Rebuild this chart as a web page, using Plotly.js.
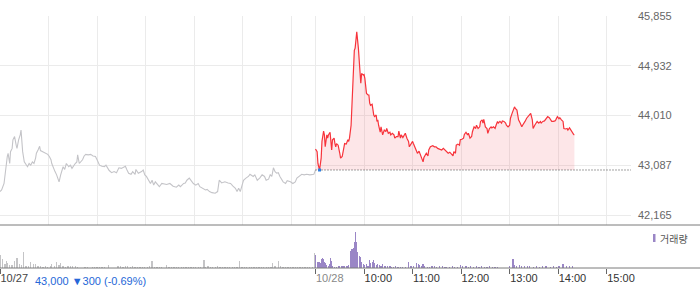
<!DOCTYPE html>
<html><head><meta charset="utf-8">
<script src="https://cdn.plot.ly/plotly-3.0.1.min.js"></script>
<style>html,body{margin:0;padding:0;background:#fff;}#chart{width:700px;height:289px;}</style>
</head><body><div id="chart"></div>
<script>
// ---- data (minutes since 09:00 of each day) ----
const prevClose = 43000;
const priceTicks = [42165, 43087, 44010, 44932, 45855];
const priceTickText = ['42,165', '43,087', '44,010', '44,932', '45,855'];
const dayLabels = ['10/27', '10/28'];
const hourLabels = ['10:00', '11:00', '12:00', '13:00', '14:00', '15:00'];
const summaryText = '43,000 \u25BC300 (-0.69%)';
const volumeLabel = '거래량';

const day1Min = [0,2,5,6,7,9,10,12,13,15,16,18,20,21,23,25,26,27,28,30,32,34,36,38,40,42,44,45,47,49,50,53,56,59,61,63,64,66,68,70,72,73,75,77,78,80,82,85,87,89,91,93,95,96,98,100,102,104,106,109,112,115,118,120,123,126,129,131,133,135,138,141,144,147,150,153,155,157,159,162,164,167,168,171,173,175,177,179,181,184,186,188,190,192,194,197,200,203,206,210,214,218,221,223,227,229,231,234,237,239,242,245,247,251,254,256,259,262,266,269,271,274,278,282,285,288,291,293,295,297,299,301,304,307,309,313,315,318,321,324,327,329,332,334,336,338,340,342,344,346,350,353,355,359,362,365,367,370,373,376,379,383,386,388,390];
const day1Price = [42600,42630,42750,42880,43090,43250,43310,43120,43340,43400,43560,43620,43460,43400,43560,43650,43740,43490,43340,43150,43090,43060,43120,43090,43150,43120,43220,43310,43370,43440,43360,43340,43310,43290,43250,43190,43120,43030,42970,42910,42830,42780,42910,43000,43060,43010,43120,43060,43090,43030,43090,43120,43150,43280,43120,43150,43190,43260,43290,43280,43290,43260,43250,43190,43090,43070,43060,43090,43030,42990,42950,42970,42950,43040,43030,43060,43070,43000,42940,42920,42970,42920,43010,42940,42950,42970,43000,42910,42880,42810,42750,42810,42720,42780,42750,42690,42750,42740,42730,42750,42700,42680,42720,42690,42750,42760,42810,42850,42780,42750,42720,42750,42690,42660,42630,42640,42600,42580,42570,42600,42810,42760,42780,42760,42750,42700,42660,42600,42660,42600,42690,42810,42850,42880,42920,42880,42910,42810,42850,42910,42880,42810,42830,42910,42880,43040,42970,42940,42950,42880,42780,42750,42800,42780,42750,42780,42850,42880,42920,42910,42920,42910,42910,42920,43000];

const day2Min = [0,2,3,5,7,8,10,11,12,14,15,16,18,19,20,21,23,24,25,26,28,30,31,33,35,36,38,40,41,42,44,45,46,47,48,49,50,51,53,54,55,56,57,59,60,61,62,63,65,66,67,68,70,71,72,73,75,76,77,78,80,81,82,83,85,87,88,90,92,93,95,97,98,100,102,103,105,106,108,110,111,113,115,116,118,120,121,123,125,126,128,130,131,133,134,135,137,139,140,142,144,145,147,149,151,153,156,158,160,162,164,166,168,170,171,173,174,176,178,179,181,183,184,186,188,189,191,193,194,196,198,199,201,203,204,206,207,208,210,212,213,215,217,218,220,222,223,225,226,228,230,231,233,235,236,238,240,241,243,245,246,247,249,250,251,253,255,256,258,259,261,263,264,266,268,269,271,273,274,276,278,279,281,283,284,286,287,289,291,292,294,296,297,299,301,302,304,306,307,309,311,312,314,316,317,319,320];
const day2Price = [43390,43340,43120,43000,43220,43530,43720,43650,43430,43650,43590,43650,43700,43490,43370,43560,43590,43490,43430,43490,43460,43310,43220,43250,43400,43490,43480,43560,43530,43590,43830,44200,44580,44730,45220,45260,45410,45560,45260,44890,44820,44610,44790,44760,44770,44700,44510,44420,44390,44390,44240,44200,44220,44070,44020,43990,44020,43900,43930,43830,43700,43800,43710,43650,43740,43710,43770,43680,43700,43650,43680,43650,43590,43620,43620,43720,43590,43650,43600,43650,43680,43590,43530,43430,43480,43530,43490,43430,43370,43310,43350,43280,43230,43150,43230,43250,43310,43260,43370,43430,43450,43450,43430,43430,43400,43390,43370,43400,43370,43340,43310,43330,43290,43260,43340,43310,43460,43480,43460,43560,43570,43590,43660,43700,43650,43680,43590,43620,43710,43800,43770,43830,43770,43800,43900,43930,43870,43940,43800,43770,43680,43770,43800,43780,43800,43770,43820,43900,43870,43900,43870,43910,43900,43870,43830,43800,43830,43960,44050,44110,44170,44140,44110,44020,43930,43870,43800,43830,43870,43900,43960,43990,44020,44050,43930,43770,43830,43870,43900,43870,43900,43870,43900,43910,43930,43960,43990,43970,43930,43900,43900,43910,43930,43990,43950,43970,43930,43900,43770,43760,43770,43740,43780,43720,43710,43660,43650];

const day1VolMin = [0,3,6,8,9,12,15,18,21,24,27,29,32,35,38,41,44,47,50,53,56,59,62,64,67,70,73,75,78,81,84,87,90,93,96,105,108,114,117,120,123,126,129,134,146,149,152,155,158,161,164,167,170,173,176,179,182,185,188,191,194,197,200,206,209,212,215,218,221,224,227,230,233,236,239,242,245,248,252,254,257,260,263,266,269,272,275,278,281,284,287,290,293,296,299,302,305,308,311,314,317,320,323,326,329,332,335,337,340,344,347,350,353,356,359,362,365,368,371,374,377,380,383,386,389];
const day1Vol = [1300,900,400,700,500,300,300,700,1000,400,300,1600,200,200,600,400,400,200,200,150,200,150,200,400,200,600,300,500,200,150,200,200,200,200,150,150,150,150,150,150,150,150,150,300,200,200,150,200,200,150,200,150,150,150,150,150,150,200,700,150,150,150,150,300,150,150,150,150,150,150,150,150,150,150,150,150,150,150,800,150,200,150,150,150,200,150,150,150,150,150,150,150,150,700,150,150,150,150,150,150,150,150,150,150,150,150,150,500,200,700,200,150,150,150,150,150,150,150,150,150,150,150,150,150,1500];

const day2VolMin = [0,2,3,5,6,7,9,10,11,12,14,16,17,19,20,21,23,26,28,30,32,34,36,38,40,41,43,44,45,47,48,49,50,51,52,54,55,56,57,59,61,63,65,67,68,70,72,73,75,77,79,81,83,85,87,89,92,94,96,99,102,105,108,111,115,118,121,125,127,129,131,133,135,138,141,144,147,150,153,157,160,162,166,169,172,176,179,182,186,189,192,195,199,202,205,209,212,215,219,222,225,240,244,246,248,252,255,258,262,265,269,273,277,281,285,290,294,298,301,306,310,314,318];
const day2Vol = [1300,600,600,600,500,900,1000,900,600,500,300,200,400,1000,700,200,150,150,200,200,200,200,200,200,200,300,1600,1700,1900,2000,2600,3600,2200,2600,1600,1200,1100,900,600,400,300,400,200,800,500,600,800,500,300,400,300,200,400,200,200,200,200,150,150,200,150,150,150,150,600,200,200,500,400,300,200,400,200,150,150,200,200,150,200,200,150,150,150,200,150,150,300,200,200,150,200,150,200,150,200,150,150,200,150,150,150,200,900,300,200,300,200,200,200,200,150,200,150,200,200,150,200,150,200,400,200,200,200];

// ---- build ----
const DAY = 390;
const x2 = day2Min.map(m => m + DAY);
const xv2 = day2VolMin.map(m => m + DAY);
const lastX = x2[x2.length - 1];
const lowIdx = day2Price.indexOf(Math.min(...day2Price));

const traces = [
  {x: day1Min, y: day1Price, type: 'scatter', mode: 'lines', line: {color: '#c4c4c8', width: 1.1}, xaxis: 'x', yaxis: 'y', hoverinfo: 'skip'},
  {x: [DAY, lastX], y: [prevClose, prevClose], type: 'scatter', mode: 'lines', line: {width: 0, color: 'rgba(0,0,0,0)'}, xaxis: 'x', yaxis: 'y', hoverinfo: 'skip'},
  {x: x2, y: day2Price, type: 'scatter', mode: 'lines', line: {color: '#f7333b', width: 1.2}, fill: 'tonexty', fillcolor: 'rgba(244,90,100,0.15)', xaxis: 'x', yaxis: 'y', hoverinfo: 'skip'},
  {x: [DAY, 2 * DAY], y: [prevClose, prevClose], type: 'scatter', mode: 'lines', line: {color: '#444', width: 1, dash: '1px,2px'}, xaxis: 'x', yaxis: 'y', hoverinfo: 'skip'},
  {x: [x2[lowIdx]], y: [day2Price[lowIdx]], type: 'scatter', mode: 'markers', marker: {symbol: 'square', size: 3, color: '#2b7de0'}, xaxis: 'x', yaxis: 'y', hoverinfo: 'skip'},
  {x: day1VolMin, y: day1Vol, type: 'bar', width: 1.6, marker: {color: '#c4c4c6', line: {width: 0}}, xaxis: 'x2', yaxis: 'y2', hoverinfo: 'skip'},
  {x: xv2, y: day2Vol, type: 'bar', width: 1.5, marker: {color: '#9a86c6', line: {width: 0}}, xaxis: 'x2', yaxis: 'y2', hoverinfo: 'skip'}
];

const gridX = [0, 60, 120, 180, 240, 300, 360, 390, 450, 510, 570, 630, 690, 750];
const tickX2 = [0, DAY, DAY + 60, DAY + 120, DAY + 180, DAY + 240, DAY + 300, DAY + 360];
const tickText2 = ['<span style="color:#444">' + dayLabels[0] + '</span>', '<span style="color:#888">' + dayLabels[1] + '</span>'].concat(hourLabels);

const PW = 631, PH = 252;
const layout = {
  width: 700, height: 289,
  margin: {l: 0, r: 69, t: 16, b: 21, pad: 0},
  paper_bgcolor: '#fff', plot_bgcolor: '#fff',
  showlegend: false, bargap: 0,
  font: {family: 'Liberation Sans, Arial, sans-serif', size: 11, color: '#333'},
  xaxis: {range: [0, 2 * DAY], domain: [0, 1], anchor: 'y', tickvals: gridX, showticklabels: false, ticks: '',
          showgrid: true, gridcolor: '#ebebeb', gridwidth: 1, zeroline: false, showline: false, fixedrange: true},
  yaxis: {domain: [43 / PH, 1], range: [41980, 45855], side: 'right', anchor: 'x', tickvals: priceTicks, ticktext: priceTickText,
          ticks: '', ticklabelstandoff: 6, showgrid: true, gridcolor: '#ebebeb', gridwidth: 1, zeroline: false, showline: false,
          tickfont: {family: 'Liberation Sans, Arial, sans-serif', size: 11, color: '#666'}},
  xaxis2: {range: [0, 2 * DAY], domain: [0, 1], anchor: 'y2', tickvals: tickX2, ticktext: tickText2, ticks: 'outside', ticklen: 5,
           tickcolor: '#666', tickwidth: 1, ticklabelposition: 'outside right', showgrid: false, zeroline: false, showline: false,
           tickfont: {family: 'Liberation Sans, Arial, sans-serif', size: 11, color: '#333'}},
  yaxis2: {domain: [0, 42 / PH], range: [0, 4200], anchor: 'x2', visible: false, showgrid: false, zeroline: false},
  shapes: [
    {type: 'line', xref: 'paper', yref: 'paper', x0: 0, x1: 700 / PW, y0: 43 / PH, y1: 43 / PH, line: {color: '#7a7a7a', width: 1}, layer: 'above'},
    {type: 'line', xref: 'paper', yref: 'paper', x0: 0, x1: 700 / PW, y0: 0, y1: 0, line: {color: '#7a7a7a', width: 1}, layer: 'above'},
    {type: 'rect', xref: 'paper', yref: 'paper', x0: 653 / PW, x1: 655.5 / PW, y0: (268 - 242) / PH, y1: (268 - 234) / PH, fillcolor: '#9a86c6', line: {width: 0}}
  ],
  annotations: [
    {xref: 'paper', yref: 'paper', x: 33 / PW, y: (268 - 281) / PH, xanchor: 'left', yanchor: 'middle', showarrow: false,
     text: summaryText, font: {family: 'Liberation Sans, Arial, sans-serif', size: 11, color: '#2567d8'}},
    {xref: 'paper', yref: 'paper', x: 657.5 / PW, y: (268 - 238) / PH, xanchor: 'left', yanchor: 'middle', showarrow: false,
     text: volumeLabel, font: {family: 'Noto Sans CJK KR, sans-serif', size: 10, color: '#555'}}
  ]
};
Plotly.newPlot('chart', traces, layout, {staticPlot: true, displayModeBar: false});
</script></body></html>
